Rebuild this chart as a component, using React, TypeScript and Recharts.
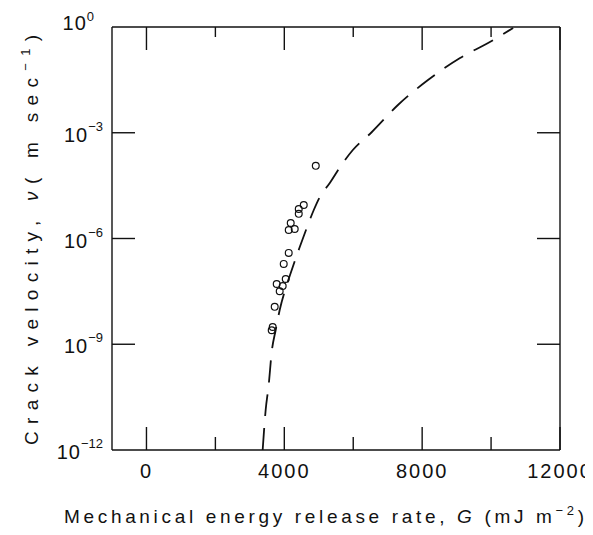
import React from 'react';
import { ComposedChart, XAxis, YAxis, Scatter, Line } from 'recharts';

// Measured data points: G (mJ m^-2) and crack velocity v (m/s)
const pointG = [4913, 4564, 4419, 4419, 4186, 4128, 4302, 4128, 3983, 4041, 3779, 3953, 3866, 3721, 3663, 3634];
const pointV = [1.15e-4, 8.9e-6, 6.9e-6, 5.0e-6, 2.75e-6, 1.74e-6, 1.86e-6, 3.9e-7, 1.9e-7, 7.1e-8, 5.1e-8, 4.5e-8, 3.2e-8, 1.15e-8, 3.1e-9, 2.5e-9];

// Dashed theoretical curve
const curveG = [3372, 3459, 3547, 3634, 3750, 3866, 4041, 4186, 4448, 4651, 4855, 5029, 5320, 5698, 5988, 6541, 7297, 8169, 9099, 9913, 10640];
const curveV = [1e-12, 1.36e-11, 6.98e-11, 6.03e-10, 2.54e-9, 9.38e-9, 3.94e-8, 1.05e-7, 5.74e-7, 1.99e-6, 6.44e-6, 1.5e-5, 3.75e-5, 1.39e-4, 3.24e-4, 1.05e-3, 6.12e-3, 3.13e-2, 0.132, 0.352, 0.938];

const xTicks = [0, 2000, 4000, 6000, 8000, 10000, 12000];
const xLabeled = [0, 4000, 8000, 12000];
const yTicks = [1e-12, 1e-9, 1e-6, 1e-3, 1];
const yExponents = ['\u221212', '\u22129', '\u22126', '\u22123', '0'];

const pointData = pointG.map((G, i) => ({ G, v: pointV[i] }));
const curveData = curveG.map((G, i) => ({ G, v: curveV[i] }));

const FONT = '"Liberation Sans", Arial, Helvetica, sans-serif';
const INK = '#111';

const BottomTick = (props: any) => {
  const { x, y, payload } = props;
  const v = payload.value;
  const major = xLabeled.includes(v);
  const len = major ? 23 : 13;
  return (
    <g>
      <line x1={x} x2={x} y1={y} y2={y - len} stroke={INK} strokeWidth={1.4} />
      {major && (
        <text x={x} y={y + 28} textAnchor="middle" fontFamily={FONT} fontSize={20} letterSpacing={2} fill={INK}>
          {v}
        </text>
      )}
    </g>
  );
};

const TopTick = (props: any) => {
  const { x, y, payload } = props;
  const major = xLabeled.includes(payload.value);
  const len = major ? 23 : 10;
  return <line x1={x} x2={x} y1={y} y2={y + len} stroke={INK} strokeWidth={1.4} />;
};

const LeftTick = (props: any) => {
  const { x, y, payload } = props;
  const idx = yTicks.findIndex((t) => Math.abs(Math.log10(t) - Math.log10(payload.value)) < 1e-6);
  const exp = idx >= 0 ? yExponents[idx] : '';
  const inner = idx > 0 && idx < yTicks.length - 1;
  const isTop = idx === yTicks.length - 1;
  return (
    <g>
      {inner && <line x1={x} x2={x + 23} y1={y} y2={y} stroke={INK} strokeWidth={1.4} />}
      <text x={isTop ? x - 18 : x - 9} y={isTop ? y + 3 : y + 9} textAnchor="end" fontFamily={FONT} fontSize={20} fill={INK}>
        <tspan letterSpacing={1}>10</tspan>
        <tspan dy={isTop ? -9 : -11} fontSize={13}>{exp}</tspan>
      </text>
    </g>
  );
};

const RightTick = (props: any) => {
  const { x, y, payload } = props;
  const idx = yTicks.findIndex((t) => Math.abs(Math.log10(t) - Math.log10(payload.value)) < 1e-6);
  const inner = idx > 0 && idx < yTicks.length - 1;
  return inner ? <line x1={x} x2={x - 23} y1={y} y2={y} stroke={INK} strokeWidth={1.4} /> : <g />;
};

const OpenCircle = (props: any) => (
  <circle cx={props.cx} cy={props.cy} r={3.4} fill="none" stroke={INK} strokeWidth={1.2} />
);

const XTitle = () => (
  <text x={316} y={515} textAnchor="middle" fontFamily={FONT} fontSize={19} fill={INK} textLength={520} lengthAdjust="spacing">
    <tspan>Mechanical energy  release rate, </tspan>
    <tspan fontStyle="italic">G</tspan>
    <tspan> (mJ m</tspan>
    <tspan dy={-8} fontSize={13}>{'\u22122'}</tspan>
    <tspan dy={8}>)</tspan>
  </text>
);

const YTitle = () => (
  <text
    x={0}
    y={0}
    transform="translate(30, 232) rotate(-90)"
    textAnchor="middle"
    fontFamily={FONT}
    fontSize={19}
    fill={INK}
    textLength={410}
    lengthAdjust="spacing"
  >
    <tspan>Crack velocity, </tspan>
    <tspan fontStyle="italic">{'\u03bd'}</tspan>
    <tspan>( m sec</tspan>
    <tspan dy={-8} fontSize={13}>{'\u22121'}</tspan>
    <tspan dy={8}>)</tspan>
  </text>
);

export default function App() {
  return (
    <div style={{ width: 585, height: 527, background: '#fff' }}>
      <ComposedChart width={585} height={527} margin={{ top: 18, right: 32, bottom: 55, left: 54 }}>
        <XAxis
          xAxisId="b"
          dataKey="G"
          type="number"
          domain={[-1000, 12000]}
          allowDataOverflow
          ticks={xTicks}
          interval={0}
          orientation="bottom"
          height={30}
          tickSize={0}
          tickMargin={0}
          tickLine={false}
          axisLine={{ stroke: INK, strokeWidth: 1.4 }}
          tick={<BottomTick />}
          label={<XTitle />}
        />
        <XAxis
          xAxisId="t"
          dataKey="G"
          type="number"
          domain={[-1000, 12000]}
          allowDataOverflow
          ticks={xTicks}
          interval={0}
          orientation="top"
          height={1}
          tickSize={0}
          tickMargin={0}
          tickLine={false}
          axisLine={{ stroke: INK, strokeWidth: 1.4 }}
          tick={<TopTick />}
        />
        <YAxis
          yAxisId="l"
          dataKey="v"
          scale="log"
          type="number"
          domain={[1e-12, 1]}
          allowDataOverflow
          ticks={yTicks}
          interval={0}
          orientation="left"
          width={50}
          tickSize={0}
          tickMargin={0}
          tickLine={false}
          axisLine={{ stroke: INK, strokeWidth: 1.4 }}
          tick={<LeftTick />}
          label={<YTitle />}
        />
        <YAxis
          yAxisId="r"
          dataKey="v"
          scale="log"
          type="number"
          domain={[1e-12, 1]}
          allowDataOverflow
          ticks={yTicks}
          interval={0}
          orientation="right"
          width={1}
          tickSize={0}
          tickMargin={0}
          tickLine={false}
          axisLine={{ stroke: INK, strokeWidth: 1.4 }}
          tick={<RightTick />}
        />
        <Line
          xAxisId="b"
          yAxisId="l"
          data={curveData}
          dataKey="v"
          type="monotone"
          stroke={INK}
          strokeWidth={1.8}
          strokeDasharray="22 12"
          dot={false}
          activeDot={false}
          isAnimationActive={false}
        />
        <Scatter
          xAxisId="b"
          yAxisId="l"
          data={pointData}
          dataKey="v"
          shape={<OpenCircle />}
          isAnimationActive={false}
        />
      </ComposedChart>
    </div>
  );
}
